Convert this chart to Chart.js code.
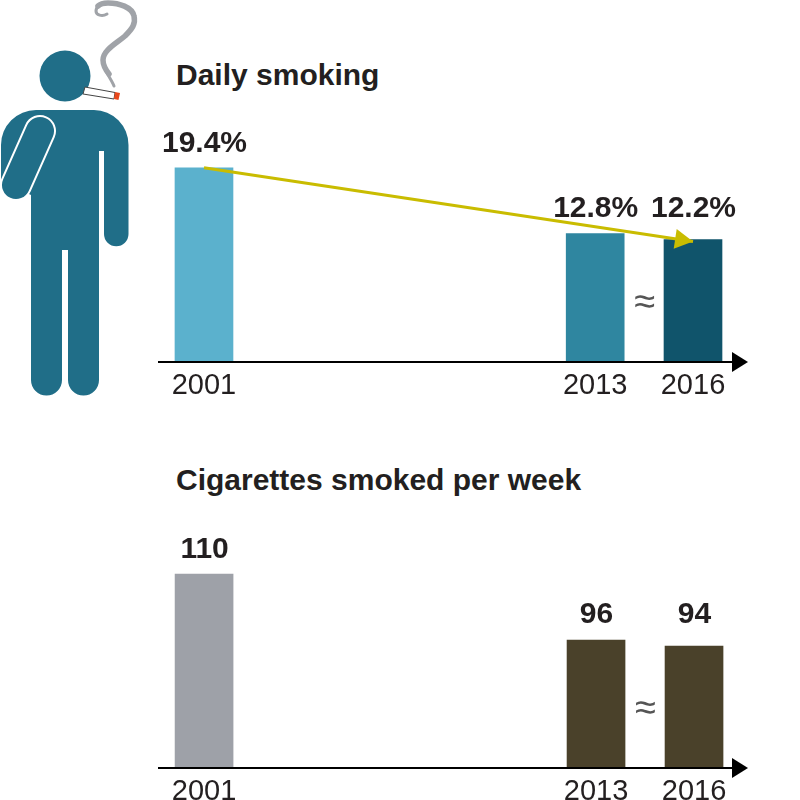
<!DOCTYPE html>
<html>
<head>
<meta charset="utf-8">
<script src="https://cdn.jsdelivr.net/npm/chart.js@4"></script>
<style>
html, body { margin: 0; padding: 0; background: #fff; overflow: hidden; }
body { position: relative; width: 800px; height: 800px; font-family: "Liberation Sans", Arial, sans-serif; }
canvas { position: absolute; left: 0; }
#chartSmoking { top: 0; }
#chartCigarettes { top: 406px; }
h2 { position: absolute; left: 176px; margin: 0; font-size: 30px; line-height: 34px; font-weight: bold; color: #231f20; white-space: nowrap; }
#person { position: absolute; left: 0; top: 0; }
</style>
</head>
<body>
<svg id="person" width="150" height="400" viewBox="0 0 150 400">
  <path d="M114 86 C111 78 103 70 103 60 C103 50 117 43 125 36 C132 29 136 24 134 16 C132 7 119 3 108 3 C100 3 96 7 96 11 C96 15 102 17 107 14" fill="none" stroke="#a0a3a8" stroke-width="3" stroke-linecap="round"/>
  <path d="M109 74 C105 69 103 65 103 60 C103 50 117 43 125 36 C132 29 136 24 134 16 C132 7 119 3 108 3 C103 3 100 4 98 6" fill="none" stroke="#a0a3a8" stroke-width="5.5" stroke-linecap="round"/>
  <circle cx="65" cy="76" r="25.5" fill="#206e88"/>
  <path d="M85 87 L115 92.5 L114 99 L83 94 Z" fill="#fff" stroke="#444" stroke-width="1"/>
  <path d="M115 92 L120 93 L118.5 100 L114 99 Z" fill="#e8481c"/>
  <path d="M36 110 H94 A34.5 35 0 0 1 128.5 145 V234 A12.2 12.2 0 0 1 104 234 V151 H99 V380 A15.5 15.5 0 0 1 68 380 V250 H62 V380 A15.5 15.5 0 0 1 31 380 V195 L1 180 V145 A35 35 0 0 1 36 110 Z" fill="#206e88"/>
  <path d="M40 131 L16 185" fill="none" stroke="#fff" stroke-width="32" stroke-linecap="round"/>
  <path d="M40 131 L16 185" fill="none" stroke="#206e88" stroke-width="28" stroke-linecap="round"/>
</svg>
<h2 style="top:58px">Daily smoking</h2>
<h2 style="top:463px">Cigarettes smoked per week</h2>
<canvas id="chartSmoking" width="800" height="400"></canvas>
<canvas id="chartCigarettes" width="800" height="400"></canvas>
<script>
const years = [2001, 2013, 2016];

const smokingValues = [19.4, 12.8, 12.2];
const smokingLabels = ["19.4%", "12.8%", "12.2%"];
const smokingColors = ["#5bb1cd", "#2f86a0", "#10546b"];

// the drawn bars in the source are not to scale with the printed numbers,
// so heights are read off the picture and the numbers are kept apart
const cigaretteHeights = [110, 72.4, 69];
const cigaretteLabels = ["110", "96", "94"];
const cigaretteColors = ["#9ea1a8", "#4a412a", "#4a412a"];

const trendX = [2001, 2016];
const trendY = [19.4, 12.0];

const textColor = "#231f20";

function pairs(xs, ys) {
    return xs.map((x, i) => ({ x: x, y: ys[i] }));
}

// axis arrow, numbers on top of the bars, the approx sign and the trend arrowhead
const decorations = {
    id: "decorations",
    afterDatasetsDraw(chart, args, opts) {
        const c = chart.ctx;
        const xs = chart.scales.x;
        const ys = chart.scales.y;
        const base = ys.getPixelForValue(0);
        const left = chart.chartArea.left;
        const right = chart.chartArea.right;
        const axisY = base + 1;

        c.save();
        c.fillStyle = "#000";
        c.fillRect(left - 1, axisY - 1, right - left + 1, 2);
        c.beginPath();
        c.moveTo(right - 1, axisY - 10);
        c.lineTo(right + 15, axisY);
        c.lineTo(right - 1, axisY + 10);
        c.closePath();
        c.fill();

        // the two later numbers sit on one line, above the taller of the pair
        c.fillStyle = textColor;
        c.font = "bold 30px 'Liberation Sans', Arial, sans-serif";
        c.textAlign = "center";
        c.textBaseline = "alphabetic";
        opts.labels.forEach((txt, i) => {
            const top = ys.getPixelForValue(i === 0 ? opts.values[0] : opts.values[1]);
            c.fillText(txt, xs.getPixelForValue(years[i]) + 0.5, top - (i === 0 ? 16 : 17));
        });

        c.fillStyle = "#555";
        c.font = "38px 'Liberation Sans', Arial, sans-serif";
        c.fillText("≈", xs.getPixelForValue((years[1] + years[2]) / 2) + 0.5, base - 47);

        if (opts.arrow) {
            const x0 = xs.getPixelForValue(trendX[0]), y0 = ys.getPixelForValue(trendY[0]);
            const x1 = xs.getPixelForValue(trendX[1]), y1 = ys.getPixelForValue(trendY[1]);
            const a = Math.atan2(y1 - y0, x1 - x0);
            c.translate(x1, y1);
            c.rotate(a);
            c.fillStyle = "#c9bc00";
            c.beginPath();
            c.moveTo(0, 0);
            c.lineTo(-18, -10);
            c.lineTo(-18, 10);
            c.closePath();
            c.fill();
        }
        c.restore();
    }
};

function makeChart(id, datasets, values, labels, yMax, xMax, arrow) {
    new Chart(document.getElementById(id), {
        type: "bar",
        data: { datasets: datasets },
        plugins: [decorations],
        options: {
            responsive: false,
            animation: false,
            events: [],
            layout: { padding: { left: 159, right: 67, top: 112, bottom: 0 } },
            plugins: {
                legend: { display: false },
                tooltip: { enabled: false },
                title: { display: false },
                decorations: { values: values, labels: labels, arrow: arrow }
            },
            scales: {
                x: {
                    type: "linear",
                    offset: false,
                    min: 1999.62,
                    max: xMax,
                    afterBuildTicks(scale) {
                        scale.ticks = years.map(y => ({ value: y }));
                    },
                    afterFit(scale) {
                        scale.height = 39;
                    },
                    grid: { display: false },
                    border: { display: false },
                    ticks: {
                        autoSkip: false,
                        maxRotation: 0,
                        padding: 0,
                        color: textColor,
                        font: { family: "'Liberation Sans', Arial, sans-serif", size: 29 },
                        callback: v => String(v)
                    }
                },
                y: { display: false, min: 0, max: yMax }
            }
        }
    });
}

makeChart("chartSmoking", [
    {
        type: "line",
        data: pairs(trendX, trendY),
        borderColor: "#c9bc00",
        borderWidth: 3,
        pointRadius: 0,
        order: 0
    },
    {
        data: pairs(years, smokingValues),
        backgroundColor: smokingColors,
        barThickness: 58,
        order: 1
    }
], smokingValues, smokingLabels, 25, 2017.227, true);

makeChart("chartCigarettes", [
    {
        data: pairs(years, cigaretteHeights),
        backgroundColor: cigaretteColors,
        barThickness: 58
    }
], cigaretteHeights, cigaretteLabels, 142, 2017.193, false);
</script>
</body>
</html>
